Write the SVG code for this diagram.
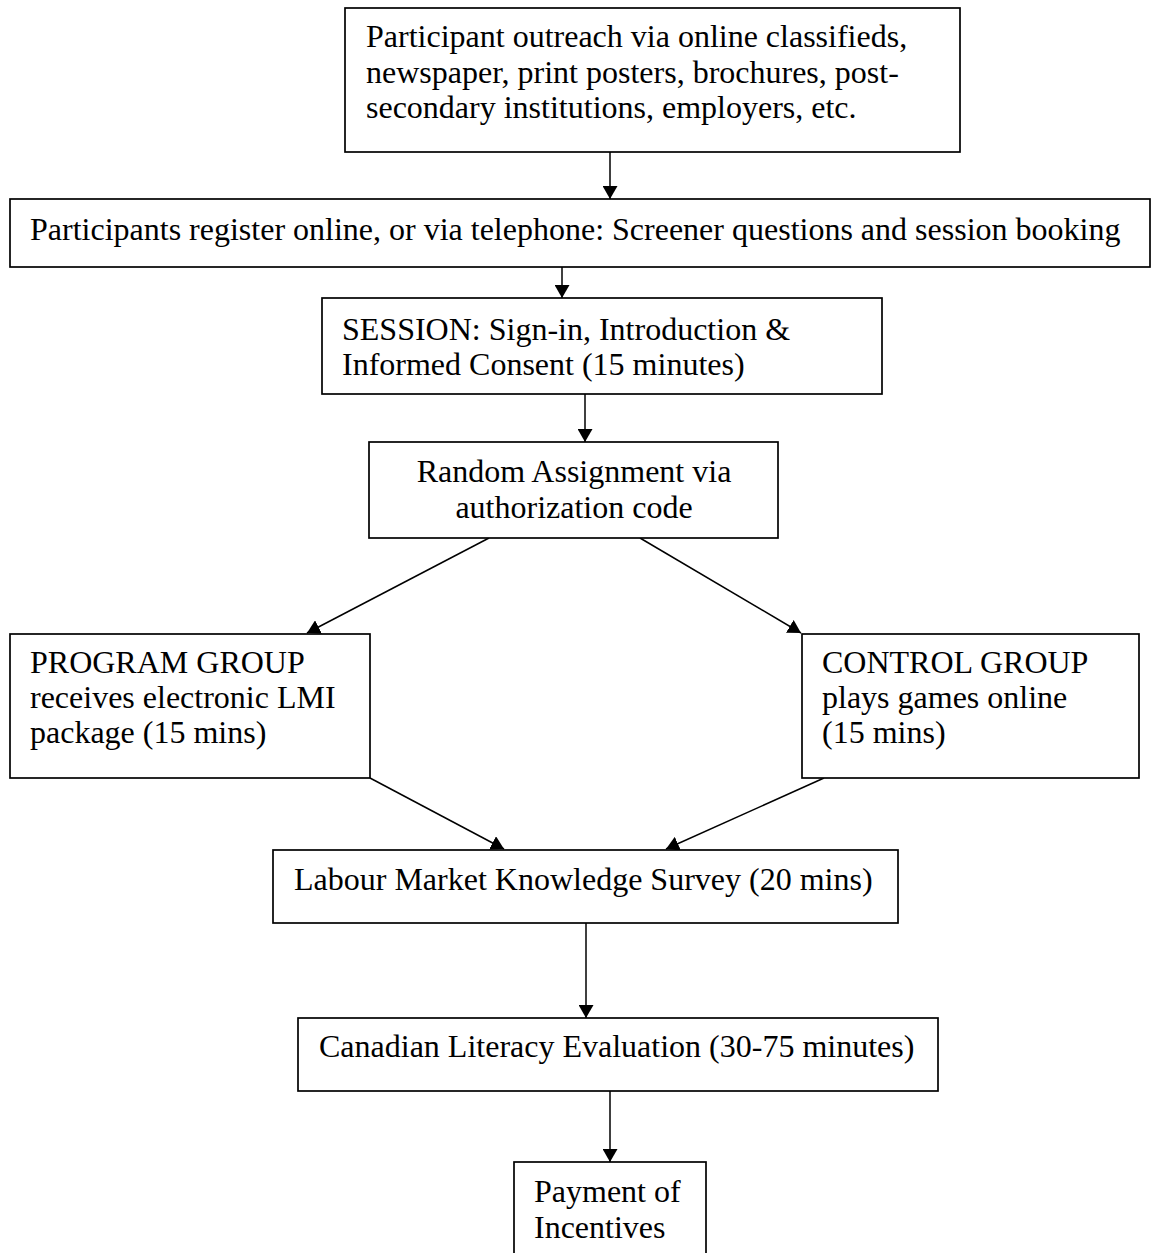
<svg xmlns="http://www.w3.org/2000/svg" width="1156" height="1253" viewBox="0 0 1156 1253">
<defs>
<style>
.box{fill:#fff;stroke:#000;stroke-width:1.7}
.t{font-family:"Liberation Serif","Times New Roman",serif;font-size:32px;fill:#000}
.c{text-anchor:middle}
.ln{stroke:#000;stroke-width:1.5;fill:none;marker-end:url(#ah)}
</style>
<marker id="ah" markerUnits="userSpaceOnUse" markerWidth="14" markerHeight="15" refX="13" refY="7.5" orient="auto">
<path d="M0,0 L13,7.5 L0,15 z" fill="#000"/>
</marker>
</defs>
<rect width="1156" height="1253" fill="#fff"/>
<g id="connectors">
<line class="ln" x1="610" y1="152" x2="610" y2="199"/>
<line class="ln" x1="562" y1="267" x2="562" y2="298"/>
<line class="ln" x1="585" y1="394" x2="585" y2="442"/>
<line class="ln" x1="489" y1="538" x2="307" y2="633"/>
<line class="ln" x1="640" y1="538" x2="801" y2="633"/>
<line class="ln" x1="370" y1="778" x2="504" y2="849"/>
<line class="ln" x1="824" y1="778" x2="666" y2="849"/>
<line class="ln" x1="586" y1="923" x2="586" y2="1018"/>
<line class="ln" x1="610" y1="1091" x2="610" y2="1162"/>
</g>
<g id="outreach">
<rect class="box" x="345" y="8" width="615" height="144"/>
<text class="t" x="366" y="47">Participant outreach via online classifieds,</text>
<text class="t" x="366" y="82.5">newspaper, print posters, brochures, post-</text>
<text class="t" x="366" y="118">secondary institutions, employers, etc.</text>
</g>
<g id="register">
<rect class="box" x="10" y="199" width="1140" height="68"/>
<text class="t" x="30" y="240">Participants register online, or via telephone: Screener questions and session booking</text>
</g>
<g id="session">
<rect class="box" x="322" y="298" width="560" height="96"/>
<text class="t" x="342" y="340">SESSION: Sign-in, Introduction &amp;</text>
<text class="t" x="342" y="375">Informed Consent (15 minutes)</text>
</g>
<g id="random">
<rect class="box" x="369" y="442" width="409" height="96"/>
<text class="t c" x="574" y="482">Random Assignment via</text>
<text class="t c" x="574" y="518">authorization code</text>
</g>
<g id="program">
<rect class="box" x="10" y="634" width="360" height="144"/>
<text class="t" x="30" y="673">PROGRAM GROUP</text>
<text class="t" x="30" y="708">receives electronic LMI</text>
<text class="t" x="30" y="743">package (15 mins)</text>
</g>
<g id="control">
<rect class="box" x="802" y="634" width="337" height="144"/>
<text class="t" x="822" y="673">CONTROL GROUP</text>
<text class="t" x="822" y="708">plays games online</text>
<text class="t" x="822" y="743">(15 mins)</text>
</g>
<g id="survey">
<rect class="box" x="273" y="850" width="625" height="73"/>
<text class="t" x="294" y="890">Labour Market Knowledge Survey (20 mins)</text>
</g>
<g id="literacy">
<rect class="box" x="298" y="1018" width="640" height="73"/>
<text class="t" x="319" y="1057">Canadian Literacy Evaluation (30-75 minutes)</text>
</g>
<g id="payment">
<rect class="box" x="514" y="1162" width="192" height="100"/>
<text class="t" x="534" y="1202">Payment of</text>
<text class="t" x="534" y="1238">Incentives</text>
</g>
</svg>
